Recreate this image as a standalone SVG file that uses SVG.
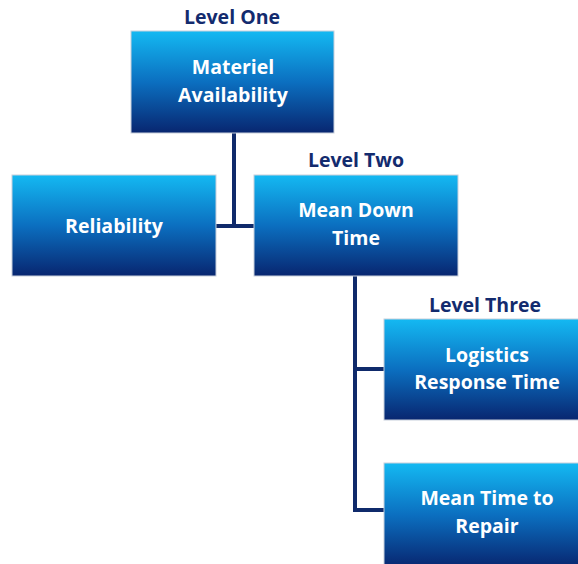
<svg xmlns="http://www.w3.org/2000/svg" width="578" height="564" viewBox="0 0 578 564">
<defs>
<linearGradient id="g" x1="0" y1="0" x2="0" y2="1">
<stop offset="0" stop-color="#14b9f2"/>
<stop offset="0.5" stop-color="#0b6fc0"/>
<stop offset="1" stop-color="#082670"/>
</linearGradient>
<style>
.box{fill:url(#g);stroke:#c8d0dc;stroke-width:1}
.t{font-family:"Open Sans","Liberation Sans",sans-serif;font-weight:bold;font-size:19.5px;fill:#ffffff;text-anchor:middle}
.lv{font-family:"Open Sans","Liberation Sans",sans-serif;font-weight:bold;font-size:19.5px;fill:#132b6e;text-anchor:middle}
.c{stroke:#0f2a6b;stroke-width:4;fill:none}
</style>
</defs>
<g id="connectors">
<path class="c" d="M234 133 V226 M216 226 H254"/>
<path class="c" d="M355 276 V510 H384 M355 369 H384"/>
</g>
<g id="labels">
<text class="lv" x="232" y="24">Level One</text>
<text class="lv" x="356" y="167">Level Two</text>
<text class="lv" x="485" y="312">Level Three</text>
</g>
<g id="n1">
<rect class="box" x="131" y="31" width="203" height="102"/>
<text class="t" x="233" y="74">Materiel</text>
<text class="t" x="233" y="102">Availability</text>
</g>
<g id="n2">
<rect class="box" x="12" y="175" width="204" height="101"/>
<text class="t" x="114" y="233">Reliability</text>
</g>
<g id="n3">
<rect class="box" x="254" y="175" width="204" height="101"/>
<text class="t" x="356" y="217">Mean Down</text>
<text class="t" x="356" y="245">Time</text>
</g>
<g id="n4">
<rect class="box" x="384" y="319" width="204" height="101"/>
<text class="t" x="487" y="362">Logistics</text>
<text class="t" x="487" y="389">Response Time</text>
</g>
<g id="n5">
<rect class="box" x="384" y="463" width="204" height="104"/>
<text class="t" x="487" y="505">Mean Time to</text>
<text class="t" x="487" y="533">Repair</text>
</g>
</svg>
